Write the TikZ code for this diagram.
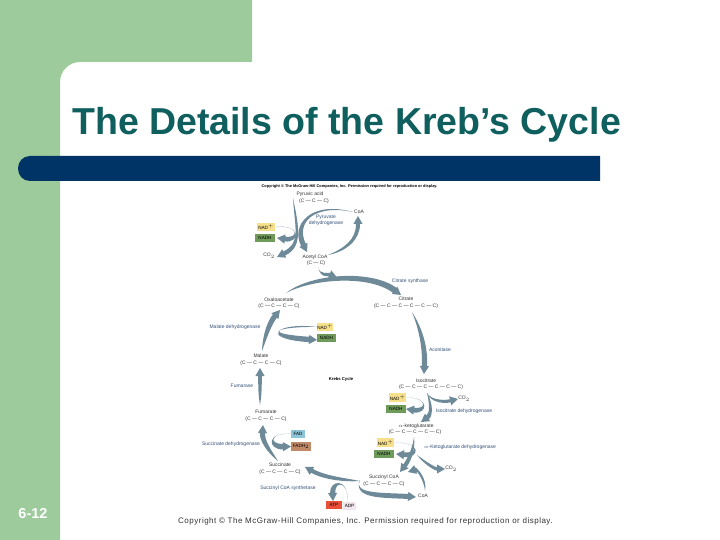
\documentclass[tikz,border=0pt]{standalone}
\usepackage{fontspec}
\setmainfont{Liberation Sans}
\usetikzlibrary{calc}
\definecolor{slidegreen}{HTML}{9DCB9B}
\definecolor{barnavy}{HTML}{003366}
\definecolor{titleteal}{HTML}{0F5F5F}
\definecolor{arrowslate}{HTML}{6E8A99}
\definecolor{enzblue}{HTML}{33507A}
\definecolor{cmpd}{HTML}{333333}
\definecolor{boxyellow}{HTML}{F6E08C}
\definecolor{boxgreen}{HTML}{6E9A5A}
\definecolor{boxblue}{HTML}{8CC4D8}
\definecolor{boxbrown}{HTML}{C08A68}
\definecolor{boxred}{HTML}{E8503A}
\definecolor{boxpink}{HTML}{F2E6EE}
\newfontfamily\spacedfont[LetterSpace=6.2]{Liberation Sans}
\tikzset{
  cmp/.style={inner sep=0pt,font=\fontsize{5}{6}\selectfont,text=cmpd},
  enz/.style={inner sep=0pt,font=\fontsize{5}{6}\selectfont,text=enzblue,align=center},
  cof/.style={inner sep=0pt,font=\fontsize{4.6}{5}\selectfont,text=black,anchor=center},
}
% filled tapered arrow: start, control 1, control 2, tip, shaft half width
\newcommand\tarrow[5]{%
  \coordinate (ts) at #1;
  \coordinate (tk) at #2;
  \coordinate (te) at #4;
  \coordinate (tc) at #3;
  \coordinate (tb) at ($(te)!8pt!(tc)$);
  \coordinate (tl) at ($(tb)!#5pt!90:(te)$);
  \coordinate (tr) at ($(tb)!#5pt!-90:(te)$);
  \coordinate (thl) at ($(tb)!4.6pt!90:(te)$);
  \coordinate (thr) at ($(tb)!4.6pt!-90:(te)$);
  \coordinate (tcl) at ($(tc)!#5pt!90:(te)$);
  \coordinate (tcr) at ($(tc)!#5pt!-90:(te)$);
  \coordinate (tkl) at ($(tk)!#5pt!90:(tc)$);
  \coordinate (tkr) at ($(tk)!#5pt!-90:(tc)$);
  \fill[arrowslate] (ts) .. controls (tkl) and (tcl) .. (tl) -- (thl) -- (te) -- (thr) -- (tr) .. controls (tcr) and (tkr) .. (ts) -- cycle;
}
\begin{document}
\begin{tikzpicture}[x=1pt,y=-1pt]
\useasboundingbox (0,0) rectangle (720,540);
\fill[white] (0,0) rectangle (720,540);
% slide frame
\fill[slidegreen] (0,0) -- (252,0) -- (252,62) -- (80,62) .. controls (69,62) and (60,71) .. (60,82) -- (60,540) -- (0,540) -- cycle;
\fill[barnavy] (30,156) -- (600,156) -- (600,181) -- (30,181) .. controls (23,181) and (18,175.5) .. (18,168.5) .. controls (18,161.5) and (23,156) .. (30,156) -- cycle;
\node[inner sep=0pt,anchor=west,font=\fontsize{37.5}{42}\selectfont\bfseries,text=titleteal] (title) at (72,124.5) {The Details of the Kreb’s Cycle};
\node[inner sep=0pt,font=\fontsize{14.5}{16}\selectfont\bfseries,text=white] (num) at (33,514) {6-12};
\node[inner sep=0pt,anchor=west,font=\fontsize{8}{10}\selectfont\spacedfont,text=cmpd] (foot) at (178,521) {Copyright © The McGraw-Hill Companies, Inc. Permission required for reproduction or display.};
\node[inner sep=0pt,font=\fontsize{3.9}{4}\selectfont\bfseries,text=black] (topc) at (349.5,187) {Copyright © The McGraw-Hill Companies, Inc. Permission required for reproduction or display.};
% compounds
\node[cmp] (pyr) at (310,194) {Pyruvic acid};
\node[cmp] (pyrc) at (314,201) {(C — C — C)};
\node[cmp] (coaA) at (359,212) {CoA};
\node[cmp] (co2A) at (269,256) {CO$_2$};
\node[cmp] (acet) at (315,257) {Acetyl CoA};
\node[cmp] (acetc) at (316,263) {(C — C)};
\node[cmp] (oxa) at (279,300) {Oxaloacetate};
\node[cmp] (oxac) at (279,306) {(C — C — C — C)};
\node[cmp] (cit) at (406,299) {Citrate};
\node[cmp] (citc) at (406,306) {(C — C — C — C — C — C)};
\node[cmp] (mal) at (261,356) {Malate};
\node[cmp] (malc) at (261,363) {(C — C — C — C)};
\node[cmp,font=\fontsize{4.2}{5}\selectfont\bfseries,text=black] (krebs) at (341,379) {Krebs Cycle};
\node[cmp] (iso) at (426,381) {Isocitrate};
\node[cmp] (isoc) at (431,387) {(C — C — C — C — C — C)};
\node[cmp] (co2B) at (464,399) {CO$_2$};
\node[cmp] (akg) at (416,426) {$\alpha$-ketoglutarate};
\node[cmp] (akgc) at (415,432) {(C — C — C — C — C)};
\node[cmp] (co2C) at (451,469) {CO$_2$};
\node[cmp] (suc) at (384,477) {Succinyl CoA};
\node[cmp] (succ) at (384,484) {(C — C — C — C)};
\node[cmp] (coaB) at (423,496) {CoA};
\node[cmp] (fum) at (266,412) {Fumarate};
\node[cmp] (fumc) at (266,419) {(C — C — C — C)};
\node[cmp] (sate) at (280,465) {Succinate};
\node[cmp] (satec) at (280,472) {(C — C — C — C)};
% enzymes
\node[enz] (e1) at (326,220.5) {Pyruvate\\dehydrogenase};
\node[enz] (e2) at (410,281) {Citrate synthase};
\node[enz] (e3) at (235,327) {Malate dehydrogenase};
\node[enz] (e4) at (242,386) {Fumarase};
\node[enz] (e5) at (440,350) {Aconitase};
\node[enz] (e6) at (464,411) {Isocitrate dehydrogenase};
\node[enz] (e7) at (460,447) {$\alpha$-Ketoglutarate dehydrogenase};
\node[enz] (e8) at (231,444) {Succinate dehydrogenase};
\node[enz] (e9) at (288,488) {Succinyl CoA synthetase};
% cofactors
\node[cof,fill=boxyellow,minimum width=18pt,minimum height=8.5pt] (nadA) at (266,227) {NAD$^+$};
\node[cof,fill=boxgreen,minimum width=20pt,minimum height=8.5pt] (nadhA) at (265,238) {NADH};
\node[cof,fill=boxyellow,minimum width=16pt,minimum height=8.5pt] (nadB) at (325,327) {NAD$^+$};
\node[cof,fill=boxgreen,minimum width=19pt,minimum height=8.5pt] (nadhB) at (326.5,338) {NADH};
\node[cof,fill=boxyellow,minimum width=17pt,minimum height=9pt] (nadC) at (397.5,397.5) {NAD$^+$};
\node[cof,fill=boxgreen,minimum width=20pt,minimum height=8.5pt] (nadhC) at (396,409) {NADH};
\node[cof,fill=boxyellow,minimum width=17pt,minimum height=9pt] (nadD) at (385.5,442.5) {NAD$^+$};
\node[cof,fill=boxgreen,minimum width=20pt,minimum height=8.5pt] (nadhD) at (384,454) {NADH};
\node[cof,fill=boxblue,minimum width=14pt,minimum height=8.5pt] (fad) at (298,434) {FAD};
\node[cof,fill=boxbrown,minimum width=20pt,minimum height=9pt] (fadh) at (301,446.5) {FADH$_2$};
\node[cof,fill=boxred,minimum width=16pt,minimum height=8.5pt] (atp) at (334,505) {ATP};
\node[cof,fill=boxpink,minimum width=13pt,minimum height=8.5pt] (adp) at (349.5,506) {ADP};
% arrows: pyruvate step
\tarrow{([shift={(-17,4)}]pyr.center)}{(297,228)}{(302,245)}{([shift={(8,1)}]co2A.center)}{2.2}
\tarrow{([shift={(-6,0)}]coaA.center)}{(312,202)}{(293,224)}{([shift={(-8,-5)}]acet.center)}{2.6}
\tarrow{([shift={(13,-2)}]acet.center)}{(345,250)}{(358,240)}{([shift={(-1,4)}]coaA.center)}{2}
\tarrow{([shift={(9,0)}]nadA.center)}{(300,224)}{(300,241)}{([shift={(12,0)}]nadhA.center)}{2.4}
% into citrate
\tarrow{([shift={(7,-7)}]oxa.center)}{(312,276)}{(370,272)}{([shift={(-5,-4)}]cit.center)}{3}
\tarrow{([shift={(2,4)}]acetc.center)}{(320,277)}{(328,274)}{(337,277.5)}{1.8}
% right side
\tarrow{([shift={(6,6)}]citc.center)}{(424,335)}{(425,355)}{([shift={(-2,-7)}]iso.center)}{2.6}
\tarrow{([shift={(-4,6)}]isoc.center)}{(432,405)}{(431,415)}{([shift={(5,-4)}]akg.center)}{2.2}
\tarrow{([shift={(-4,6)}]isoc.center)}{(431,402)}{(445,402)}{([shift={(-6,0)}]co2B.center)}{1.6}
\tarrow{([shift={(9,0)}]nadC.center)}{(428,397)}{(428,412)}{([shift={(10,0)}]nadhC.center)}{2.4}
\tarrow{([shift={(-1,5)}]akgc.center)}{(414,452)}{(407,463)}{([shift={(16,-5)}]suc.center)}{2.1}
\tarrow{([shift={(2,23)}]akgc.center)}{(425,463)}{(435,469)}{([shift={(-6,0)}]co2C.center)}{1.7}
\tarrow{([shift={(9,0)}]nadD.center)}{(420,442)}{(420,456)}{([shift={(12,0)}]nadhD.center)}{2.4}
\tarrow{([shift={(2,-5)}]coaB.center)}{(426,480)}{(417,469)}{([shift={(24,-5)}]suc.center)}{2.3}
\tarrow{([shift={(-24,3)}]suc.center)}{(352,497)}{(385,495)}{([shift={(-7,1)}]coaB.center)}{2.5}
\tarrow{([shift={(-24,4)}]suc.center)}{(345,480)}{(325,478)}{([shift={(25,2)}]sate.center)}{2.1}
\tarrow{([shift={(-2,-4)}]adp.center)}{(349,479)}{(332,480)}{([shift={(-1,-4)}]atp.center)}{2.6}
% left side
\tarrow{([shift={(-2,-4)}]sate.center)}{(268,450)}{(262,440)}{([shift={(-3,6)}]fumc.center)}{2.6}
\tarrow{([shift={(-7,0)}]fad.center)}{(268,432)}{(268,447)}{([shift={(-10,0)}]fadh.center)}{2.8}
\tarrow{([shift={(-6,-7)}]fum.center)}{(260,395)}{(260,385)}{([shift={(-1,5)}]malc.center)}{1.8}
\tarrow{([shift={(1,-5)}]mal.center)}{(265,335)}{(270,322)}{([shift={(1,4)}]oxac.center)}{2.6}
\tarrow{([shift={(-8,0)}]nadB.center)}{(278,324)}{(258,336)}{([shift={(-9.5,2)}]nadhB.center)}{2.7}
\end{tikzpicture}
\end{document}
